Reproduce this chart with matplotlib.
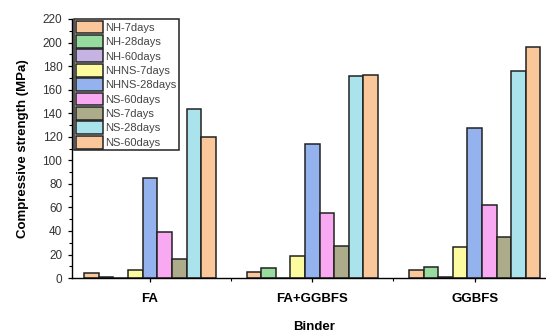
import matplotlib
matplotlib.use("Agg")
import matplotlib.pyplot as plt
import numpy as np

plt.rcParams['font.family'] = ['Liberation Sans', 'DejaVu Sans']

binders = ["FA", "FA+GGBFS", "GGBFS"]
series_labels = ["NH-7days", "NH-28days", "NH-60days", "NHNS-7days", "NHNS-28days",
                 "NS-60days", "NS-7days", "NS-28days", "NS-60days"]
series_colors = ["#FAC79A", "#97DB9F", "#C5B3E3", "#FDFBA0", "#94B3EE",
                 "#F8A9F2", "#ACAC8A", "#ABE3EC", "#FAC79A"]

# compressive strength (MPa), one list per series: FA, FA+GGBFS, GGBFS
nh_7 = [4, 5, 6.8]
nh_28 = [1, 8.5, 9]
nh_60 = [0, 0, 1]
nhns_7 = [6.8, 18.5, 26.5]
nhns_28 = [85, 114, 127]
nhns_60 = [39, 55, 62]
ns_7 = [16, 27.5, 34.5]
ns_28 = [143.5, 171.5, 176]
ns_60 = [120, 172.5, 196.5]

series = [nh_7, nh_28, nh_60, nhns_7, nhns_28, nhns_60, ns_7, ns_28, ns_60]

fig = plt.figure(figsize=(5.46, 3.33), dpi=100)
ax = fig.add_axes([0.132, 0.165, 0.886, 0.778])

x = np.arange(len(binders))
w = 0.09
for i, (vals, lab, col) in enumerate(zip(series, series_labels, series_colors)):
    ax.bar(x + (i - 4) * w, vals, width=w, color=col, edgecolor="#222222",
           linewidth=1.1, label=lab)

ax.set_xlim(-0.48, 2.5)
ax.set_ylim(0, 220)
ax.set_yticks(np.arange(0, 221, 20))
ax.set_yticks(np.arange(0, 221, 10), minor=True)
ax.set_xticks(x)
ax.set_xticks([0.5, 1.5], minor=True)
ax.set_xticklabels(binders, fontsize=9.5, fontweight="bold")
ax.tick_params(axis="y", labelsize=8.5, length=3, width=0.9, pad=4, labelcolor="#333333")
ax.tick_params(axis="y", which="minor", length=2, width=0.8)
ax.tick_params(axis="x", length=3, width=0.9, pad=8)
ax.tick_params(axis="x", which="minor", length=2, width=0.8)
for s in ["top", "right"]:
    ax.spines[s].set_visible(False)
for s in ["left", "bottom"]:
    ax.spines[s].set_linewidth(1.0)

ax.set_ylabel("Compressive strength (MPa)", fontsize=9.5, fontweight="bold", labelpad=10)
ax.set_xlabel("Binder", fontsize=9.5, fontweight="bold", labelpad=11)

leg = ax.legend(loc="upper left", bbox_to_anchor=(0.005, 1.0), fontsize=8,
                frameon=True, fancybox=False, edgecolor="#222222", framealpha=1,
                labelspacing=0.14, handlelength=2.4, handleheight=1.4,
                handletextpad=0.25, borderpad=0.15, borderaxespad=0)
leg.get_frame().set_linewidth(1.1)
for t in leg.get_texts():
    t.set_color("#444444")

fig.savefig("out.png", dpi=100)
